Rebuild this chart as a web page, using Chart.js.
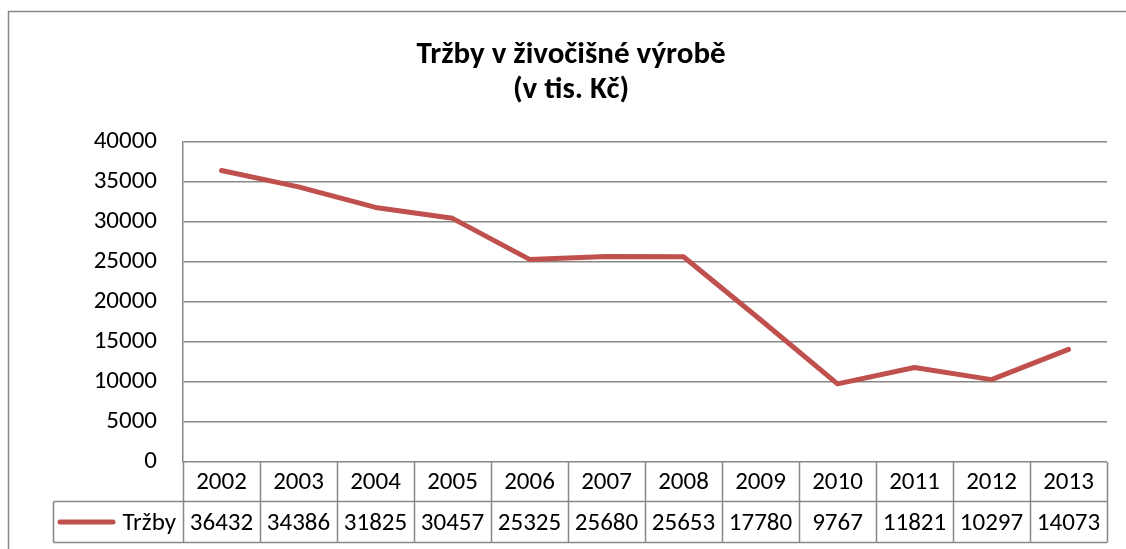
<!DOCTYPE html>
<html>
<head>
<meta charset="utf-8">
<script src="https://cdn.jsdelivr.net/npm/chart.js@4/dist/chart.umd.min.js"></script>
<style>
html,body{margin:0;padding:0;background:#fff;}
#wrap{position:relative;width:1126px;height:549px;}
</style>
</head>
<body>
<div id="wrap"><canvas id="c" width="1126" height="549"></canvas></div>
<script>
const categories = ['2002','2003','2004','2005','2006','2007','2008','2009','2010','2011','2012','2013'];
const seriesName = 'Tržby';
const values = [36432, 34386, 31825, 30457, 25325, 25680, 25653, 17780, 9767, 11821, 10297, 14073];
const titleLines = ['Tržby v živočišné výrobě', '(v tis. Kč)'];
const yTicks = [0, 5000, 10000, 15000, 20000, 25000, 30000, 35000, 40000];

const FONT = 'Carlito, Lato, "Open Sans", sans-serif';
const GRID = '#878787';
const RED = '#C0504D';

const decor = {
  id: 'decor',
  beforeDraw(chart) {
    const ctx = chart.ctx;
    ctx.save();
    ctx.fillStyle = '#fff';
    ctx.fillRect(0, 0, chart.width, chart.height);
    ctx.strokeStyle = GRID;
    ctx.lineWidth = 1.5;
    ctx.beginPath();
    ctx.moveTo(8.5, chart.height + 5);
    ctx.lineTo(8.5, 11.5);
    ctx.lineTo(chart.width + 5, 11.5);
    ctx.stroke();
    ctx.restore();
  },
  afterDraw(chart) {
    const ctx = chart.ctx;
    const x = chart.scales.x;
    const area = chart.chartArea;
    const n = categories.length;
    const colW = (area.right - area.left) / n;
    const top = area.bottom;
    const mid = 501.5;
    const bot = 542.5;
    const legL = 53.5;
    ctx.save();
    // title
    ctx.fillStyle = '#000';
    ctx.textAlign = 'center';
    ctx.textBaseline = 'alphabetic';
    ctx.font = 'bold 31px ' + FONT;
    ctx.fillText(titleLines[0], 571, 63);
    ctx.fillText(titleLines[1], 571, 98);
    // table lines
    ctx.strokeStyle = GRID;
    ctx.lineWidth = 1.5;
    ctx.beginPath();
    ctx.moveTo(legL, mid); ctx.lineTo(area.right, mid);
    ctx.moveTo(legL, bot); ctx.lineTo(area.right, bot);
    ctx.moveTo(legL, mid); ctx.lineTo(legL, bot);
    for (let i = 0; i <= n; i++) {
      const xx = Math.round(area.left + i * colW) + 0.5;
      ctx.moveTo(xx, top); ctx.lineTo(xx, bot);
    }
    ctx.stroke();
    // texts
    ctx.font = '25px ' + FONT;
    ctx.fillStyle = '#000';
    ctx.textAlign = 'center';
    categories.forEach((c, i) => {
      const cx = x.getPixelForValue(i);
      ctx.fillText(c, cx, 489);
      ctx.fillText(String(values[i]), cx, 530);
    });
    // legend
    ctx.strokeStyle = RED;
    ctx.lineWidth = 5;
    ctx.lineCap = 'round';
    ctx.beginPath();
    ctx.moveTo(60, 522);
    ctx.lineTo(113, 522);
    ctx.stroke();
    ctx.textAlign = 'right';
    ctx.fillText(seriesName, 176, 530);
    ctx.restore();
  }
};

new Chart(document.getElementById('c'), {
  type: 'line',
  data: {
    labels: categories,
    datasets: [{
      label: seriesName,
      data: values,
      borderColor: RED,
      backgroundColor: RED,
      borderWidth: 5,
      pointRadius: 0,
      tension: 0,
      borderCapStyle: 'round',
      borderJoinStyle: 'round'
    }]
  },
  options: {
    responsive: false,
    animation: false,
    layout: { padding: { top: 142, bottom: 87, left: 0, right: 19 } },
    plugins: { legend: { display: false }, title: { display: false }, tooltip: { enabled: false } },
    scales: {
      x: { type: 'category', offset: true, display: false },
      y: {
        min: 0, max: 40000,
        afterFit(s) { s.width = 183; },
        afterBuildTicks(s) { s.ticks = yTicks.map(v => ({ value: v })); },
        grid: { color: GRID, lineWidth: 1.5, drawTicks: false },
        border: { display: true, color: GRID, width: 1.5 },
        ticks: { padding: 26, color: '#000', font: { family: FONT, size: 25 }, callback: v => String(v) }
      }
    }
  },
  plugins: [decor]
});
</script>
</body>
</html>
